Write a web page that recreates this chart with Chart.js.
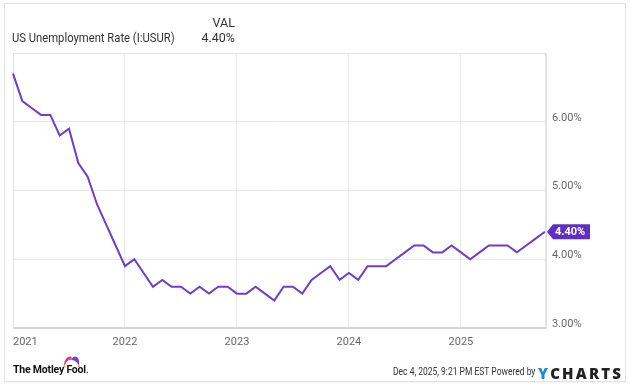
<!DOCTYPE html>
<html>
<head>
<meta charset="utf-8">
<script src="https://cdn.jsdelivr.net/npm/chart.js@4/dist/chart.umd.min.js"></script>
<style>
  html, body { margin:0; padding:0; background:#fff; }
  body { width:633px; height:388px; position:relative; overflow:hidden; font-family: Roboto, "Noto Sans", sans-serif; }
  #card { position:absolute; left:4px; top:3px; width:622px; height:379px; border:1px solid #e3e3e3; box-shadow:0 1px 2px rgba(0,0,0,0.06); box-sizing:border-box; }
  #wrap { position:absolute; left:0; top:0; width:633px; height:388px; }
  .t { position:absolute; white-space:nowrap; color:#333; }
  #title { left:12px; top:30px; font-size:12.5px; transform-origin:0 0; transform:scaleX(0.9); }
  #valh { left:185px; width:50px; text-align:right; top:15px; font-size:12.5px; }
  #valv { left:185px; width:50px; text-align:right; top:30px; font-size:12.5px; }
  #fool { left:13px; top:363px; font-size:10.5px; font-weight:700; color:#111; letter-spacing:-0.2px; }
  #date { left:393px; top:366px; font-size:10px; color:#333; transform-origin:0 0; transform:scaleX(0.85); }
  #ych { left:538px; top:363px; font-size:15px; font-weight:800; color:#222; letter-spacing:2.2px; font-family:"Open Sans", sans-serif; }
  #ych span { color:#1a8ad4; }
  #hat { position:absolute; left:62px; top:354px; }
</style>
</head>
<body>
<div id="card"></div>
<div id="wrap"><canvas id="c" width="633" height="388"></canvas></div>
<div class="t" id="title">US Unemployment Rate (I:USUR)</div>
<div class="t" id="valh">VAL</div>
<div class="t" id="valv">4.40%</div>
<svg id="hat" width="19" height="14" viewBox="0 0 19 14">
  <path d="M2 12 C2 6 5 2 8.5 2.5 C10 2.8 10 4.5 9.5 6 C8 5 5.5 6 4 9 Z" fill="#e8368f"/>
  <path d="M9.5 6 C10 3 12.5 1.5 15 3 C17 4.5 17.5 8 17 12 C16 9 13 6 9.5 6 Z" fill="#7b3fd0"/>
  <circle cx="2.3" cy="12.3" r="1.1" fill="#f5b400"/>
  <circle cx="17" cy="12.3" r="1.1" fill="#f5b400"/>
</svg>
<div class="t" id="fool">The Motley Fool<span style="font-weight:400">.</span></div>
<div class="t" id="date">Dec 4, 2025, 9:21 PM EST Powered by</div>
<div class="t" id="ych"><span>Y</span>CHARTS</div>
<script>
// Monthly US unemployment rate (%), month-end dated
const months = [
  '2020-12',
  '2021-01','2021-02','2021-03','2021-04','2021-05','2021-06','2021-07','2021-08','2021-09','2021-10','2021-11','2021-12',
  '2022-01','2022-02','2022-03','2022-04','2022-05','2022-06','2022-07','2022-08','2022-09','2022-10','2022-11','2022-12',
  '2023-01','2023-02','2023-03','2023-04','2023-05','2023-06','2023-07','2023-08','2023-09','2023-10','2023-11','2023-12',
  '2024-01','2024-02','2024-03','2024-04','2024-05','2024-06','2024-07','2024-08','2024-09','2024-10','2024-11','2024-12',
  '2025-01','2025-02','2025-03','2025-04','2025-05','2025-06','2025-07','2025-08','2025-09'
];
const rates = [
  6.7,
  6.3, 6.2, 6.1, 6.1, 5.8, 5.9, 5.4, 5.2, 4.8, 4.5, 4.2, 3.9,
  4.0, 3.8, 3.6, 3.7, 3.6, 3.6, 3.5, 3.6, 3.5, 3.6, 3.6, 3.5,
  3.5, 3.6, 3.5, 3.4, 3.6, 3.6, 3.5, 3.7, 3.8, 3.9, 3.7, 3.8,
  3.7, 3.9, 3.9, 3.9, 4.0, 4.1, 4.2, 4.2, 4.1, 4.1, 4.2, 4.1,
  4.0, 4.1, 4.2, 4.2, 4.2, 4.1, 4.2, 4.3, 4.4
];
const yearTicks = [2021, 2022, 2023, 2024, 2025];
const yTicks = [3, 4, 5, 6];
const xMin = 2021, xMax = 2025.76, yMin = 3, yMax = 7;
const lastLabel = '4.40%';

const LINE = '#6a3fd0';
const points = months.map((m, i) => {
  const [y, mo] = m.split('-').map(Number);
  return { x: y + mo / 12, y: rates[i] };
});

const frame = {
  id: 'frame',
  beforeDatasetsDraw(chart) {
    const a = chart.chartArea, ctx = chart.ctx;
    ctx.save();
    ctx.strokeStyle = '#e2e2e2';
    ctx.lineWidth = 1;
    ctx.strokeRect(a.left + 0.5, a.top + 0.5, a.right - a.left - 1, a.bottom - a.top);
    ctx.strokeStyle = '#d6d6d6';
    ctx.lineWidth = 2;
    ctx.beginPath(); ctx.moveTo(a.left, a.bottom); ctx.lineTo(a.right, a.bottom); ctx.stroke();
    ctx.restore();
  }
};
const tag = {
  id: 'tag',
  afterDatasetsDraw(chart) {
    const ctx = chart.ctx;
    const last = points[points.length - 1];
    const py = chart.scales.y.getPixelForValue(last.y);
    const x0 = chart.chartArea.right + 1;
    ctx.save();
    ctx.fillStyle = '#5f2fc4';
    ctx.beginPath();
    ctx.moveTo(x0, py);
    ctx.lineTo(x0 + 6, py - 7.5);
    ctx.lineTo(x0 + 43, py - 7.5);
    ctx.lineTo(x0 + 43, py + 7.5);
    ctx.lineTo(x0 + 6, py + 7.5);
    ctx.closePath();
    ctx.fill();
    ctx.fillStyle = '#fff';
    ctx.font = 'bold 11px Roboto';
    ctx.textBaseline = 'middle';
    ctx.textAlign = 'left';
    ctx.fillText(lastLabel, x0 + 8, py + 0.5);
    ctx.restore();
  }
};

new Chart(document.getElementById('c'), {
  type: 'line',
  data: {
    datasets: [{
      data: points,
      borderColor: LINE,
      borderWidth: 2,
      pointRadius: 0,
      tension: 0,
      fill: false,
      clip: false
    }]
  },
  options: {
    responsive: false,
    animation: false,
    layout: { padding: { left: 13, top: 53, right: 0, bottom: 0 } },
    plugins: { legend: { display: false }, tooltip: { enabled: false } },
    scales: {
      x: {
        type: 'linear',
        min: xMin, max: xMax,
        afterBuildTicks(s) { s.ticks = yearTicks.map(v => ({ value: v })).concat([{ value: xMax }]); },
        afterFit(s) { s.height = 60; },
        grid: { color: '#e8e8e8', drawTicks: false },
        border: { display: false },
        ticks: {
          align: 'inner',
          padding: 8,
          color: '#666',
          font: { family: 'Roboto', size: 11 },
          maxRotation: 0,
          autoSkip: false,
          callback: v => (Number.isInteger(v) ? String(v) : '')
        }
      },
      y: {
        position: 'right',
        min: yMin, max: yMax,
        afterBuildTicks(s) { s.ticks = yTicks.map(v => ({ value: v })); },
        afterFit(s) { s.width = 87; },
        grid: { color: '#e8e8e8', drawTicks: false },
        border: { display: true, color: '#e2e2e2' },
        ticks: {
          padding: 6,
          labelOffset: -4,
          color: '#666',
          font: { family: 'Roboto', size: 11 },
          callback: v => v.toFixed(2) + '%'
        }
      }
    }
  },
  plugins: [frame, tag]
});
</script>
</body>
</html>
